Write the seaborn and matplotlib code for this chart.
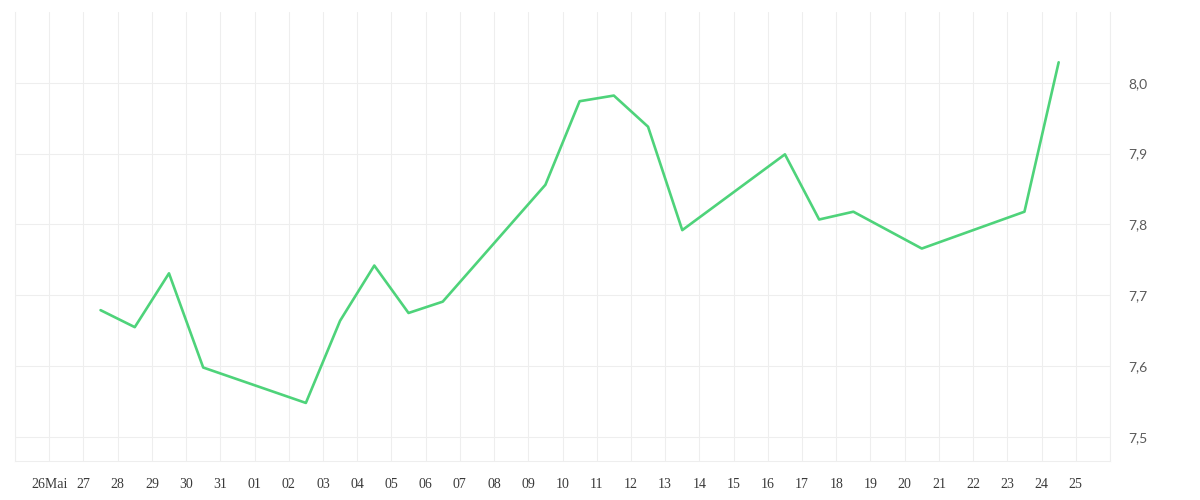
import matplotlib
matplotlib.use("Agg")
import numpy as np
import pandas as pd
import matplotlib.pyplot as plt
import seaborn as sns

# ---- data ----
dates = [
    "2024-05-27 12:00", "2024-05-28 12:00", "2024-05-29 12:00", "2024-05-30 12:00",
    "2024-06-02 12:00", "2024-06-03 12:00", "2024-06-04 12:00", "2024-06-05 12:00",
    "2024-06-06 12:00", "2024-06-09 12:00", "2024-06-10 12:00", "2024-06-11 12:00",
    "2024-06-12 12:00", "2024-06-13 12:00", "2024-06-16 12:00", "2024-06-17 12:00",
    "2024-06-18 12:00", "2024-06-20 12:00", "2024-06-23 12:00", "2024-06-24 12:00",
]
values = [
    7.679, 7.655, 7.731, 7.598,
    7.548, 7.664, 7.742, 7.675,
    7.691, 7.856, 7.974, 7.982,
    7.938, 7.792, 7.899, 7.807,
    7.818, 7.766, 7.818, 8.029,
]
tick_dates = pd.date_range("2024-05-25", "2024-06-26", freq="D")
tick_labels = ["", "26Mai", "27", "28", "29", "30", "31", "01", "02", "03", "04",
               "05", "06", "07", "08", "09", "10", "11", "12", "13", "14", "15",
               "16", "17", "18", "19", "20", "21", "22", "23", "24", "25", ""]
y_ticks = [7.5, 7.6, 7.7, 7.8, 7.9, 8.0]
y_labels = ["7,5", "7,6", "7,7", "7,8", "7,9", "8,0"]

df = pd.DataFrame({"date": pd.to_datetime(dates), "value": values})

sns.set_style("white")
grid_c = "#eeeeee"

fig = plt.figure(figsize=(12, 5), dpi=100)
ax = fig.add_axes([15 / 1200, 39 / 500, 1095 / 1200, 449 / 500])

sns.lineplot(data=df, x="date", y="value", ax=ax, color="#4ed37a", linewidth=1.9)

ax.set_xlim(tick_dates[0], tick_dates[-1])
ax.set_ylim(7.466, 8.100)

ax.set_xticks(tick_dates)
ax.set_xticklabels(tick_labels, fontfamily="Liberation Serif", fontsize=10, color="#3a3a3a")
ax.yaxis.tick_right()
ax.set_yticks(y_ticks)
ax.set_yticklabels(y_labels, fontfamily="Lato", fontsize=10, color="#5a5a5a")

ax.grid(True, color=grid_c, linewidth=0.8)
ax.set_axisbelow(True)
ax.tick_params(axis="x", length=6.5, width=0.8, color=grid_c, pad=6)
ax.tick_params(axis="y", length=0, pad=13)
for ha in ax.get_yticklabels():
    ha.set_horizontalalignment("left")

for side in ["left", "right", "bottom"]:
    ax.spines[side].set_color(grid_c)
    ax.spines[side].set_linewidth(0.8)
ax.spines["top"].set_visible(False)

ax.set_xlabel("")
ax.set_ylabel("")

fig.savefig("out.png", dpi=100)
